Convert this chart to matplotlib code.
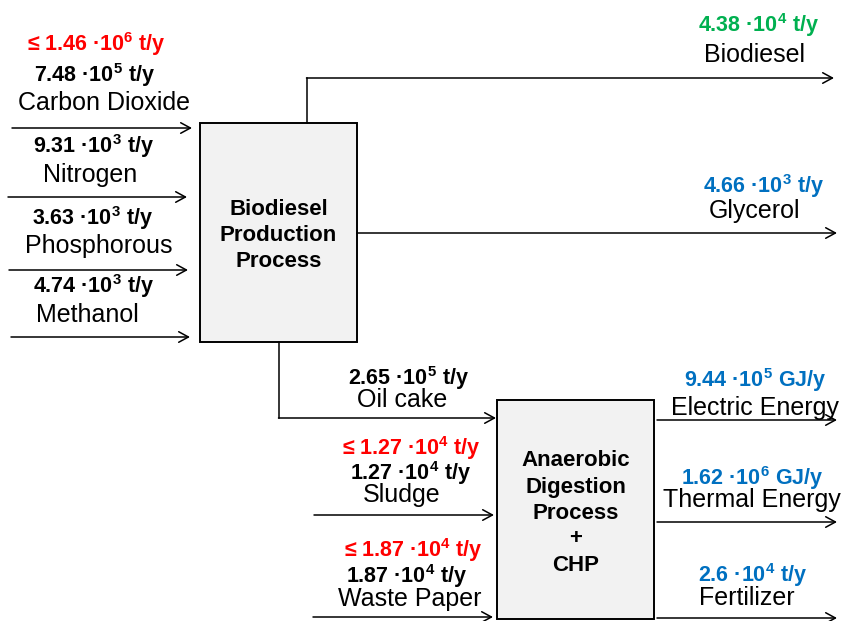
import matplotlib.pyplot as plt
from matplotlib.patches import Rectangle

plt.rcParams['font.family'] = ['Liberation Sans', 'DejaVu Sans']
plt.rcParams['mathtext.fontset'] = 'custom'
plt.rcParams['mathtext.rm'] = 'Liberation Sans'
plt.rcParams['mathtext.bf'] = 'Liberation Sans:bold'

RED = '#ff0000'
GREEN = '#00b050'
BLUE = '#0070c0'

# --- data ---
# inputs of the biodiesel production process
bio_inputs = ['Carbon Dioxide', 'Nitrogen', 'Phosphorous', 'Methanol']
bio_input_mant = ['7.48', '9.31', '3.63', '4.74']
bio_input_exp = [5, 3, 3, 3]
co2_limit = ('1.46', 6)

# outputs of the biodiesel production process
bio_outputs = ['Biodiesel', 'Glycerol']
bio_output_mant = ['4.38', '4.66']
bio_output_exp = [4, 3]
bio_output_colors = [GREEN, BLUE]

# inputs of the anaerobic digestion
ad_inputs = ['Oil cake', 'Sludge', 'Waste Paper']
ad_input_mant = ['2.65', '1.27', '1.87']
ad_input_exp = [5, 4, 4]
ad_input_limits = [None, ('1.27', 4), ('1.87', 4)]

# outputs of anaerobic digestion + CHP
ad_outputs = ['Electric Energy', 'Thermal Energy', 'Fertilizer']
ad_output_mant = ['9.44', '1.62', '2.6']
ad_output_exp = [5, 6, 4]
ad_output_units = ['GJ/y', 'GJ/y', 't/y']

box_names = [['Biodiesel', 'Production', 'Process'],
             ['Anaerobic', 'Digestion', 'Process', '+', 'CHP']]


def flow(mant, exp, unit='t/y', le=False):
    s = f'{mant} ·10$^{{\\mathbf{{{exp}}}}}$ {unit}'
    return '≤ ' + s if le else s


# --- layout (pixel coordinates, y down) ---
fig = plt.figure(figsize=(8.42, 6.21), dpi=100)
ax = fig.add_axes([0, 0, 1, 1])
ax.set_xlim(0, 842)
ax.set_ylim(621, 0)
ax.axis('off')

LBL = 18
NUM = 15.5
BOX = 16
LW = 1.1


def arrow(x0, y, x1):
    ax.annotate('', xy=(x1, y), xytext=(x0, y),
                arrowprops=dict(arrowstyle='->,head_length=0.7,head_width=0.38',
                                lw=LW, color='black', shrinkA=0, shrinkB=0))


def num(x, y, s, color='black'):
    ax.text(x, y, s, ha='center', va='baseline', fontsize=NUM,
            fontweight='bold', color=color)


def lbl(x, y, s):
    ax.text(x, y, s, ha='center', va='baseline', fontsize=LBL)


# process boxes
boxes = [(200, 123, 157, 219), (497, 400, 157, 219)]
box_base = [[215, 241, 267], [466, 493, 519, 544, 571]]
for (bx, by, bw, bh), lines, bases in zip(boxes, box_names, box_base):
    ax.add_patch(Rectangle((bx, by), bw, bh, facecolor='#f2f2f2',
                           edgecolor='black', lw=1.4, zorder=2))
    for s, yb in zip(lines, bases):
        ax.text(bx + bw / 2, yb, s, ha='center', va='baseline',
                fontsize=BOX, fontweight='bold', zorder=3)

# biodiesel inputs
in_arrow = [(12, 128, 192), (8, 197, 187), (9, 270, 188), (11, 337, 190)]
in_lbl = [(104, 110), (90, 182), (99, 253), (87, 322)]
in_num = [(95, 82), (94, 153), (93, 225), (94, 293)]
for i in range(len(bio_inputs)):
    x0, y, x1 = in_arrow[i]
    arrow(x0, y, x1)
    lbl(*in_lbl[i], bio_inputs[i])
    num(*in_num[i], flow(bio_input_mant[i], bio_input_exp[i]))
num(96, 51, flow(*co2_limit, le=True), RED)

# biodiesel outputs
ax.plot([307, 307], [123, 78], color='black', lw=LW)
arrow(306.5, 78, 834)
arrow(357, 233, 837)
out_lbl = [(755, 62), (755, 218)]
out_num = [(759, 32), (764, 193)]
for i in range(len(bio_outputs)):
    lbl(*out_lbl[i], bio_outputs[i])
    num(*out_num[i], flow(bio_output_mant[i], bio_output_exp[i]),
        bio_output_colors[i])

# anaerobic digestion inputs
ax.plot([279, 279], [342, 418], color='black', lw=LW)
arrow(278.5, 418, 496)
arrow(314, 515, 494)
arrow(313, 617, 493)
ad_lbl = [(402, 407), (402, 502), (410, 606)]
ad_num = [(409, 385), (411, 480), (407, 583)]
ad_lim = [None, (411, 455), (413, 557)]
for i in range(len(ad_inputs)):
    lbl(*ad_lbl[i], ad_inputs[i])
    num(*ad_num[i], flow(ad_input_mant[i], ad_input_exp[i]))
    if ad_input_limits[i]:
        num(*ad_lim[i], flow(*ad_input_limits[i], le=True), RED)

# anaerobic digestion outputs
for y in [420, 522, 618]:
    arrow(657, y, 837)
ado_lbl = [(755, 415), (752, 507), (747, 605)]
ado_num = [(755, 387), (752, 485), (753, 582)]
for i in range(len(ad_outputs)):
    lbl(*ado_lbl[i], ad_outputs[i])
    num(*ado_num[i], flow(ad_output_mant[i], ad_output_exp[i],
                          ad_output_units[i]), BLUE)

fig.savefig('out.png', dpi=100)
